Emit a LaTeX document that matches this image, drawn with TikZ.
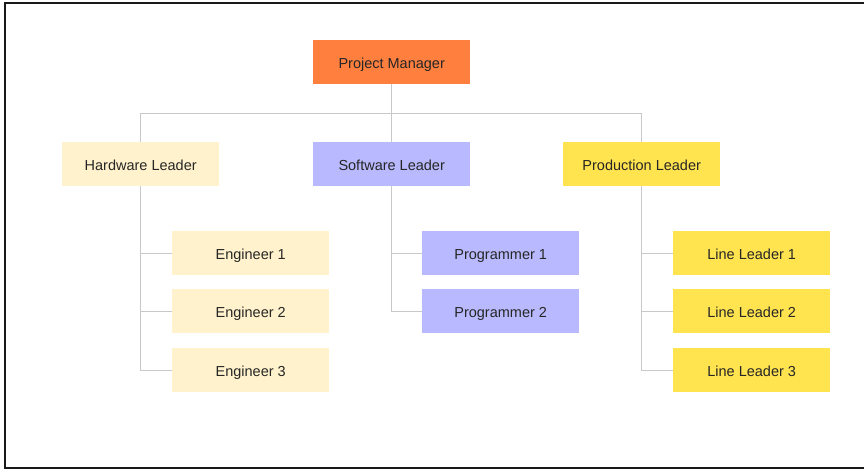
\documentclass[tikz,border=0pt]{standalone}
\usepackage{fontspec}
\setmainfont{Liberation Sans}
\definecolor{pmorange}{HTML}{FF7F3F}
\definecolor{hwyellow}{HTML}{FFF2CC}
\definecolor{swblue}{HTML}{B9B9FF}
\definecolor{prodyellow}{HTML}{FFE34F}
\definecolor{linkgray}{HTML}{C8C8C8}
\begin{document}
\begin{tikzpicture}[x=1pt,y=-1pt,
  box/.style={minimum width=157pt,minimum height=44pt,inner sep=0pt,anchor=north west,
    font=\fontsize{14.5}{16}\selectfont,text=black!85,text height=12.5pt,text depth=0pt},
  link/.style={draw=linkgray,line width=1pt}]
\useasboundingbox (0,0) rectangle (864,470);
\draw[line width=2pt,black!90] (880,3.5) -- (4.5,3.5) -- (4.5,468) -- (880,468);
\node[box,fill=pmorange] (pm) at (313,40) {Project Manager};
\node[box,fill=hwyellow] (hw) at (62,142) {Hardware Leader};
\node[box,fill=swblue] (sw) at (313,142) {Software Leader};
\node[box,fill=prodyellow] (pr) at (563,142) {Production Leader};
\node[box,fill=hwyellow] (e1) at (172,231) {Engineer 1};
\node[box,fill=hwyellow] (e2) at (172,289) {Engineer 2};
\node[box,fill=hwyellow] (e3) at (172,348) {Engineer 3};
\node[box,fill=swblue] (p1) at (422,231) {Programmer 1};
\node[box,fill=swblue] (p2) at (422,289) {Programmer 2};
\node[box,fill=prodyellow] (l1) at (673,231) {Line Leader 1};
\node[box,fill=prodyellow] (l2) at (673,289) {Line Leader 2};
\node[box,fill=prodyellow] (l3) at (673,348) {Line Leader 3};
\path[link] (pm.south) -- ++(0,29) -| (hw.north);
\path[link] (pm.south) -- (sw.north);
\path[link] (pm.south) -- ++(0,29) -| (pr.north);
\path[link] (hw.south) |- (e1.west);
\path[link] (hw.south) |- (e2.west);
\path[link] (hw.south) |- (e3.west);
\path[link] (sw.south) |- (p1.west);
\path[link] (sw.south) |- (p2.west);
\path[link] (pr.south) |- (l1.west);
\path[link] (pr.south) |- (l2.west);
\path[link] (pr.south) |- (l3.west);
\end{tikzpicture}
\end{document}
